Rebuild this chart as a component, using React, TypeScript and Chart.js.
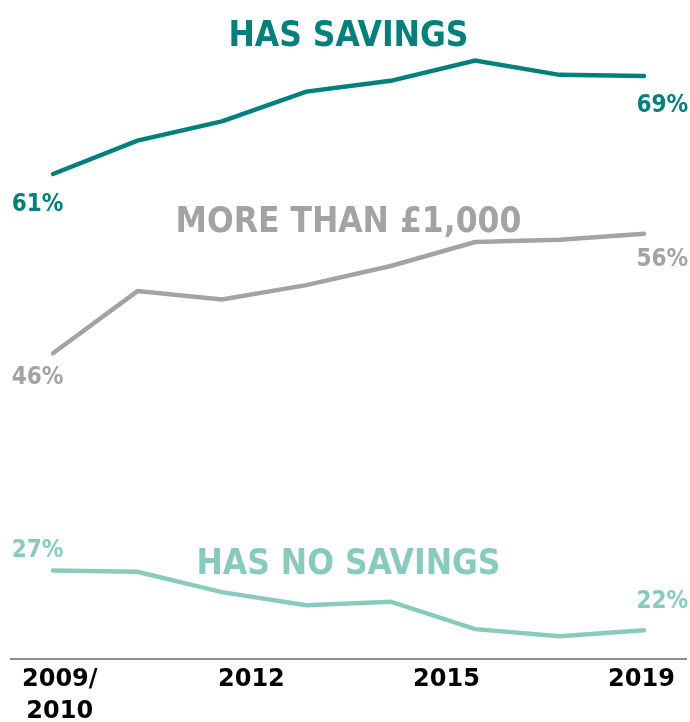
import React, { useEffect, useRef } from "react";
import { Chart, registerables } from "chart.js";

Chart.register(...registerables);

// Survey waves (evenly spaced on the x axis)
const waves = ["2009/10", "2010/11", "2011/12", "2012/13", "2013/14", "2014/15", "2016/17", "2018/19"];

// Series values (% of adults)
const hasSavings = [60.6, 63.4, 65.0, 67.5, 68.4, 70.1, 68.9, 68.8];
const moreThan1000 = [45.6, 50.8, 50.1, 51.3, 52.9, 54.9, 55.1, 55.6];
const noSavings = [27.4, 27.3, 25.6, 24.5, 24.8, 22.5, 21.9, 22.4];

const seriesNames = ["HAS SAVINGS", "MORE THAN £1,000", "HAS NO SAVINGS"];
const seriesColors = ["#037f7c", "#a3a3a3", "#88cbbd"];

// Tick labels on the x axis and where they sit (in wave-index units)
const xTickLabels: (string | string[])[] = [["2009/", "2010"], "2012", "2015", "2019"];
const xTickAt = [0.08, 2.35, 4.66, 6.97];

const TITLE_FONT = 'bold 35px "DejaVu Sans Condensed", "DejaVu Sans", sans-serif';
const PCT_FONT = 'bold 24px "DejaVu Sans Condensed", "DejaVu Sans", sans-serif';

// placement of annotations: title anchor value, label pixel offsets (first, last)
const annot = [
  { titleY: 72.4, firstDy: 37, lastDy: 36 },
  { titleY: 56.8, firstDy: 31, lastDy: 32 },
  { titleY: 28.2, firstDy: -14, lastDy: -22 },
];

const labelsPlugin = {
  id: "seriesLabels",
  afterDatasetsDraw(chart: any) {
    const { ctx, scales, chartArea } = chart;
    const xs = scales.x;
    const ys = scales.y;
    ctx.save();
    ctx.textBaseline = "alphabetic";
    chart.data.datasets.forEach((ds: any, i: number) => {
      const a = annot[i];
      ctx.fillStyle = ds.borderColor;
      ctx.font = TITLE_FONT;
      ctx.textAlign = "center";
      const cx = xs.getPixelForValue((waves.length - 1) / 2);
      const ty = ys.getPixelForValue(a.titleY) + 13;
      ctx.fillText(ds.label, cx, ty);
      ctx.font = PCT_FONT;
      const first = ds.data[0];
      const last = ds.data[ds.data.length - 1];
      ctx.textAlign = "left";
      ctx.fillText(Math.round(first.y) + "%", chartArea.left + 1, ys.getPixelForValue(first.y) + a.firstDy);
      ctx.textAlign = "right";
      ctx.fillText(Math.round(last.y) + "%", chartArea.right + 2, ys.getPixelForValue(last.y) + a.lastDy);
    });
    ctx.restore();
  },
};

export default function App() {
  const ref = useRef<HTMLCanvasElement>(null);
  useEffect(() => {
    if (!ref.current) return;
    const toPts = (arr: number[]) => arr.map((v, i) => ({ x: i, y: v }));
    const chart = new Chart(ref.current, {
      type: "line",
      data: {
        datasets: [hasSavings, moreThan1000, noSavings].map((arr, i) => ({
          label: seriesNames[i],
          data: toPts(arr),
          borderColor: seriesColors[i],
          backgroundColor: seriesColors[i],
          borderWidth: 4.5,
          borderCapStyle: "round",
          pointRadius: 0,
          tension: 0,
        })),
      },
      options: {
        animation: false,
        responsive: false,
        maintainAspectRatio: false,
        layout: { padding: { left: 10.8, right: 3.8, top: 2, bottom: 0 } },
        plugins: { legend: { display: false }, tooltip: { enabled: false } },
        scales: {
          x: {
            type: "linear",
            min: -0.5,
            max: 7.5,
            bounds: "data",
            grid: { display: false, drawTicks: false },
            border: { display: true, color: "#8c8c8c", width: 2 },
            afterBuildTicks: (scale: any) => {
              scale.ticks = xTickAt.map((v) => ({ value: v }));
            },
            ticks: {
              autoSkip: false,
              maxRotation: 0,
              padding: 5,
              color: "#000",
              font: { family: '"DejaVu Sans", sans-serif', weight: "bold", size: 24, lineHeight: 32 / 24 },
              callback: (_v: any, idx: number) => xTickLabels[idx],
            },
          },
          y: { display: false, min: 20, max: 75 },
        },
      },
      plugins: [labelsPlugin],
    } as any);
    return () => chart.destroy();
  }, []);
  return (
    <div style={{ position: "fixed", left: 0, top: 0, width: 690, height: 733, background: "#fff" }}>
      <canvas ref={ref} width={690} height={733} style={{ width: 690, height: 733, display: "block" }} />
    </div>
  );
}
